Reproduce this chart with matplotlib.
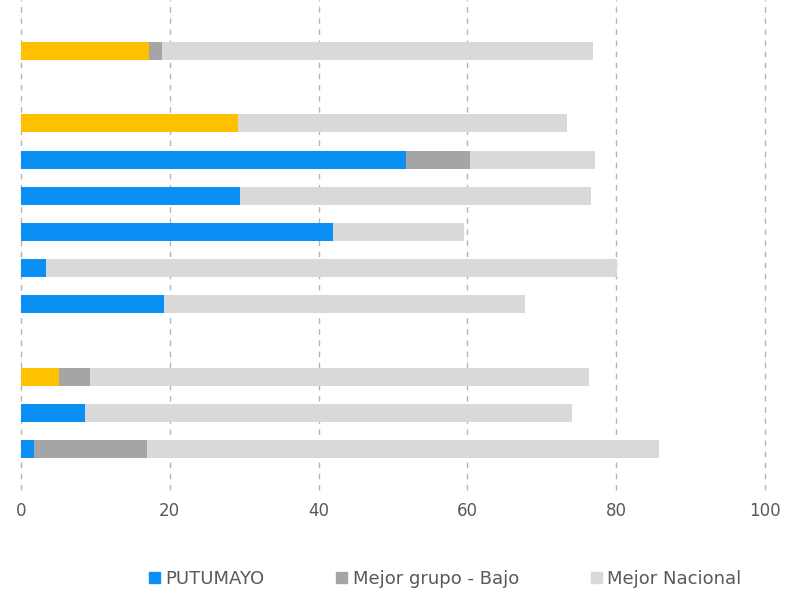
import numpy as np
import matplotlib.pyplot as plt
from matplotlib.patches import Patch

# 12 row slots, top to bottom; NaN rows are blank separators
putumayo = [17.2, np.nan, 29.1, 51.8, 29.4, 41.9, 3.4, 19.2, np.nan, 5.1, 8.6, 1.7]
mejor_grupo = [18.9, np.nan, 29.0, 60.4, 29.0, 41.0, 3.0, 19.0, np.nan, 9.3, 8.5, 17.0]
mejor_nacional = [76.9, np.nan, 73.4, 77.2, 76.6, 59.5, 80.1, 67.7, np.nan, 76.4, 74.1, 85.8]
putumayo_colors = ['#FFC000', None, '#FFC000', '#0A8FF5', '#0A8FF5', '#0A8FF5',
                   '#0A8FF5', '#0A8FF5', None, '#FFC000', '#0A8FF5', '#0A8FF5']
x_ticks = [0, 20, 40, 60, 80, 100]
legend_labels = ['PUTUMAYO', 'Mejor grupo - Bajo', 'Mejor Nacional']

BLUE = '#0A8FF5'
DARK = '#A5A5A5'
LIGHT = '#D9D9D9'

fig = plt.figure(figsize=(7.88, 5.97), dpi=100)
ax = fig.add_axes([21 / 788, 1 - 490 / 597, 744 / 788, 490 / 597])

y = np.arange(len(putumayo))
h = 0.5
for i in y:
    if np.isnan(putumayo[i]):
        continue
    ax.barh(i, mejor_nacional[i], height=h, color=LIGHT, zorder=2)
    ax.barh(i, mejor_grupo[i], height=h, color=DARK, zorder=3)
    ax.barh(i, putumayo[i], height=h, color=putumayo_colors[i], zorder=4)

ax.set_xlim(0, 100)
ax.set_ylim(len(putumayo) - 1 + 1.13, -1.41)
ax.set_xticks(x_ticks)
ax.set_yticks([])
ax.xaxis.grid(True, linestyle=(0, (4, 4)), color='#B5B5B5', linewidth=1, zorder=0)
for gl in ax.get_xgridlines():
    gl.set_clip_on(False)
ax.tick_params(axis='x', length=0, pad=9, labelsize=12, labelcolor='#595959')
for s in ax.spines.values():
    s.set_visible(False)

handles = [Patch(color=BLUE), Patch(color=DARK), Patch(color=LIGHT)]
fig.legend(handles, legend_labels, loc='lower center', bbox_to_anchor=(0.565, -0.012),
           ncol=3, frameon=False, fontsize=13, labelcolor='#595959',
           handlelength=0.6, handleheight=0.6, handletextpad=0.3, columnspacing=4.0)

fig.savefig('out.png', dpi=100)
